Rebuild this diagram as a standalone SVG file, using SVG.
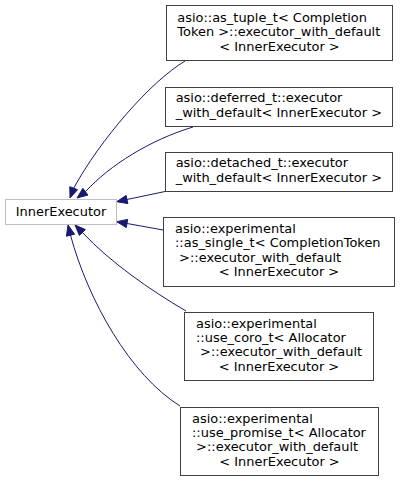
<svg xmlns="http://www.w3.org/2000/svg" width="400" height="482" viewBox="0 0 400 482">
<style>
.node rect{fill:#ffffff;stroke:#404040;stroke-width:1}
.node.base rect{stroke:#bfbfbf}
text{font-family:"DejaVu Sans",sans-serif;font-size:12.95px;fill:#000000}
.c{text-anchor:middle}
.edges path{fill:none;stroke:#191970;stroke-width:1}
.edges polygon{fill:#191970;stroke:#191970;stroke-width:1}
</style>
<rect width="400" height="482" fill="#ffffff"/>
<g class="edges">
<path d="M185,61 C150,82 100,140 73.7,188.2"/>
<polygon points="77.6,189.7 70,198 69.8,186.7"/>
<path d="M193,127 C150,140 110,165 85.4,191.7"/>
<polygon points="87.9,195.1 77,198 82.9,188.3"/>
<path d="M165,191.5 L127,199.5"/>
<polygon points="127.9,203.6 116.7,201.7 126.1,195.4"/>
<path d="M163.3,230 L127,223.5"/>
<polygon points="126.3,227.6 116.7,221.7 127.7,219.4"/>
<path d="M186,311 C150,290 110,262 82.4,232.5"/>
<polygon points="85.4,229.6 75,225 79.4,235.4"/>
<path d="M180,406 C130,375 88,300 70.5,235.2"/>
<polygon points="74.6,234.2 68,225 66.4,236.2"/>
</g>
<g id="node-inner" class="node base">
<rect x="5.5" y="199.5" width="111" height="25"/>
<text class="c" x="61" y="215.9">InnerExecutor</text>
</g>
<g id="node-as-tuple" class="node">
<rect x="166.5" y="5.5" width="226" height="55"/>
<text x="177.3" y="21.7">asio::as_tuple_t&lt; Completion</text>
<text x="177.3" y="36.1">Token &gt;::executor_with_default</text>
<text class="c" x="279.5" y="50.5">&lt; InnerExecutor &gt;</text>
</g>
<g id="node-deferred" class="node">
<rect x="165.5" y="87.5" width="227" height="39"/>
<text x="175.7" y="102.3">asio::deferred_t::executor</text>
<text x="175.7" y="116.7">_with_default&lt; InnerExecutor &gt;</text>
</g>
<g id="node-detached" class="node">
<rect x="165.5" y="152.5" width="227" height="39"/>
<text x="175.7" y="167.3">asio::detached_t::executor</text>
<text x="175.7" y="181.7">_with_default&lt; InnerExecutor &gt;</text>
</g>
<g id="node-as-single" class="node">
<rect x="163.5" y="217.5" width="231" height="69"/>
<text x="175" y="232.9">asio::experimental</text>
<text x="175" y="247.3">::as_single_t&lt; CompletionToken</text>
<text x="175" y="261.7" xml:space="preserve"> &gt;::executor_with_default</text>
<text class="c" x="279" y="276.1">&lt; InnerExecutor &gt;</text>
</g>
<g id="node-use-coro" class="node">
<rect x="184.5" y="312.5" width="189" height="68"/>
<text x="196" y="327.6">asio::experimental</text>
<text x="196" y="342">::use_coro_t&lt; Allocator</text>
<text x="196" y="356.4" xml:space="preserve"> &gt;::executor_with_default</text>
<text class="c" x="279" y="370.8">&lt; InnerExecutor &gt;</text>
</g>
<g id="node-use-promise" class="node">
<rect x="180.5" y="407.5" width="198" height="68"/>
<text x="192" y="422.6">asio::experimental</text>
<text x="192" y="437">::use_promise_t&lt; Allocator</text>
<text x="192" y="451.4" xml:space="preserve"> &gt;::executor_with_default</text>
<text class="c" x="279.5" y="465.8">&lt; InnerExecutor &gt;</text>
</g>
</svg>
